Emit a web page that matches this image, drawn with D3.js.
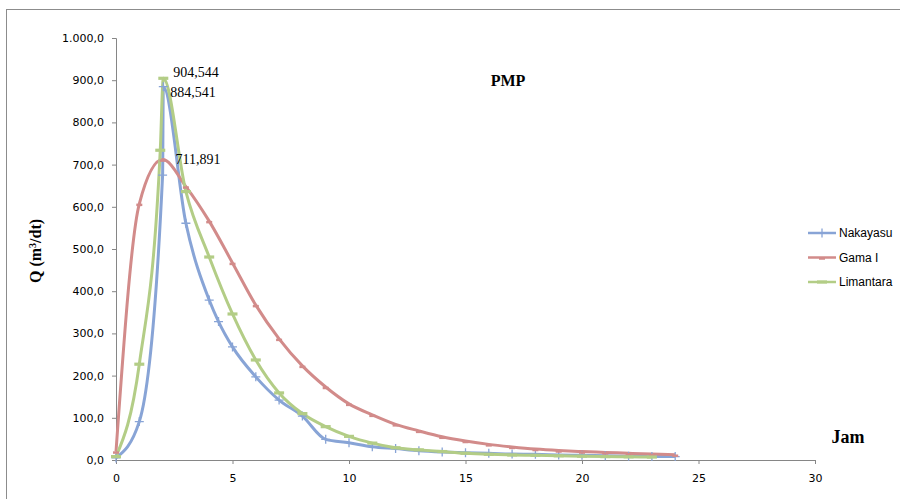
<!DOCTYPE html>
<html>
<head>
<meta charset="utf-8">
<script src="https://cdn.jsdelivr.net/npm/d3@7"></script>
<style>
	body { margin: 0; background: #fff; }
	svg { display: block; }
</style>
</head>
<body>
<div id="chart"></div>
<script>
// Nakayasu
const nakaT = [0, 1, 2, 2.03, 3, 4, 4.4, 5, 6, 7, 8, 9, 10, 11, 12, 13, 14, 15, 16, 17, 18, 19, 20, 21, 22, 23, 24]
const nakaQ = [5, 91, 675, 884.541, 561, 379, 328, 268, 197, 142, 104, 49, 41, 31.5, 27, 22, 19, 17, 16, 14, 13.5, 12, 11, 10, 9, 8.5, 8]
// Gama I
const gamaT = [0, 1, 2, 3, 4, 5, 6, 7, 8, 9, 10, 11, 12, 13, 14, 15, 16, 17, 18, 19, 20, 21, 22, 23, 24]
const gamaQ = [20, 607, 711.891, 648, 566, 467, 367, 287, 223, 173, 133, 107, 84.5, 69, 55, 45, 37, 31, 26, 22.5, 20, 18, 16, 14, 12.5]
// Limantara
const limaT = [0, 1, 1.9, 2.03, 3, 4, 5, 6, 7, 8, 9, 10, 11, 12, 13, 14, 15, 16, 17, 18, 19, 20, 21, 22, 23]
const limaQ = [8, 227, 734, 904.544, 636, 481, 346, 237, 159, 110, 79, 56, 40, 29, 24, 20, 16, 13.5, 12, 11, 10, 9, 8, 7.5, 7]

const seriesNames = ['Nakayasu', 'Gama I', 'Limantara']
const xTicks = [0, 5, 10, 15, 20, 25, 30]
const yTicks = [0, 100, 200, 300, 400, 500, 600, 700, 800, 900, 1000]
// peak labels: [series index, time, value]
const peakLabels = [[2, 2.03, 904.544], [0, 2.03, 884.541], [1, 2, 711.891]]

const W = 900, H = 499
const margin = { top: 38, right: 85, bottom: 39, left: 116 }

const colors = ['#88a4d6', '#d28b8a', '#b3cd86']
const marker = ['plus', 'dash', 'bar']

const series = [
	nakaT.map((t, i) => ({ t, q: nakaQ[i] })),
	gamaT.map((t, i) => ({ t, q: gamaQ[i] })),
	limaT.map((t, i) => ({ t, q: limaQ[i] }))
]

const idLocale = d3.formatLocale({ decimal: ',', thousands: '.', grouping: [3], currency: ['', ''] })
const fmtY = idLocale.format(',.1f')

const svg = d3.select('#chart').append('svg')
	.attr('width', W)
	.attr('height', H)

// outer chart frame
svg.append('rect')
	.attr('x', 6.5).attr('y', 9.5)
	.attr('width', W).attr('height', H)
	.attr('fill', 'none')
	.attr('stroke', '#8c8c8c')
	.attr('stroke-width', 1)

const x = d3.scaleLinear().domain([0, 30]).range([margin.left, W - margin.right])
const y = d3.scaleLinear().domain([0, 1000]).range([H - margin.bottom, margin.top])

// axes
const xAxis = svg.append('g')
	.attr('transform', `translate(0,${y(0)})`)
	.call(d3.axisBottom(x).tickValues(xTicks).tickSize(4).tickPadding(10).tickFormat(d3.format('d')))
const yAxis = svg.append('g')
	.attr('transform', `translate(${x(0)},0)`)
	.call(d3.axisLeft(y).tickValues(yTicks).tickSize(4).tickPadding(8).tickFormat(fmtY))

svg.selectAll('.domain').attr('stroke', '#868686')
svg.selectAll('.tick line').attr('stroke', '#868686')
svg.selectAll('.tick text')
	.attr('font-family', 'DejaVu Sans, sans-serif')
	.attr('font-size', 11)
	.attr('fill', '#000')

// lines
const line = d3.line()
	.x(d => x(d.t))
	.y(d => y(d.q))
	.curve(d3.curveMonotoneX)

const plot = svg.append('g')

series.forEach((s, i) => {
	plot.append('path')
		.datum(s)
		.attr('fill', 'none')
		.attr('stroke', colors[i])
		.attr('stroke-width', 3)
		.attr('stroke-linejoin', 'round')
		.attr('d', line)
})

const drawMarker = (g, type, color, cx, cy) => {
	if (type === 'plus') {
		g.append('path')
			.attr('d', `M${cx - 4.5},${cy}H${cx + 4.5}M${cx},${cy - 4.5}V${cy + 4.5}`)
			.attr('stroke', color).attr('stroke-width', 1.3)
	} else if (type === 'dash') {
		g.append('path')
			.attr('d', `M${cx - 3},${cy + 1}H${cx + 3}`)
			.attr('stroke', color).attr('stroke-width', 2.5)
	} else {
		g.append('path')
			.attr('d', `M${cx - 5},${cy}H${cx + 5}`)
			.attr('stroke', color).attr('stroke-width', 3.2)
	}
}

series.forEach((s, i) => {
	const g = plot.append('g')
	s.forEach(d => drawMarker(g, marker[i], colors[i], x(d.t), y(d.q)))
})

// peak value labels
const labelOffset = [[7, 10], [13, 4], [10, -1]]
svg.selectAll('.peak')
	.data(peakLabels)
	.enter().append('text')
	.attr('class', 'peak')
	.attr('x', d => x(d[1]) + labelOffset[d[0]][0])
	.attr('y', d => y(d[2]) + labelOffset[d[0]][1])
	.attr('font-family', 'Liberation Serif, Times New Roman, serif')
	.attr('font-size', 14)
	.text(d => idLocale.format(',.3f')(d[2]))

// titles
svg.append('text')
	.attr('x', 508).attr('y', 86)
	.attr('text-anchor', 'middle')
	.attr('font-family', 'Liberation Serif, serif')
	.attr('font-weight', 'bold')
	.attr('font-size', 16)
	.text('PMP')

svg.append('text')
	.attr('x', 848).attr('y', 443)
	.attr('text-anchor', 'middle')
	.attr('font-family', 'Liberation Serif, serif')
	.attr('font-weight', 'bold')
	.attr('font-size', 18)
	.text('Jam')

const yl = svg.append('text')
	.attr('transform', 'translate(41,251) rotate(-90)')
	.attr('text-anchor', 'middle')
	.attr('font-family', 'Liberation Serif, serif')
	.attr('font-weight', 'bold')
	.attr('font-size', 16)
yl.append('tspan').text('Q (m')
yl.append('tspan').attr('baseline-shift', 'super').attr('font-size', 10).text('3')
yl.append('tspan').text('/dt)')

// legend
const legend = svg.append('g')
seriesNames.forEach((name, i) => {
	const ly = 233 + i * 24.5
	legend.append('line')
		.attr('x1', 808).attr('x2', 836)
		.attr('y1', ly).attr('y2', ly)
		.attr('stroke', colors[i]).attr('stroke-width', 2.5)
	drawMarker(legend, marker[i], colors[i], 822, ly)
	legend.append('text')
		.attr('x', 839).attr('y', ly + 4)
		.attr('font-family', 'Liberation Sans, Arial, sans-serif')
		.attr('font-size', 12)
		.text(name)
})
</script>
</body>
</html>
